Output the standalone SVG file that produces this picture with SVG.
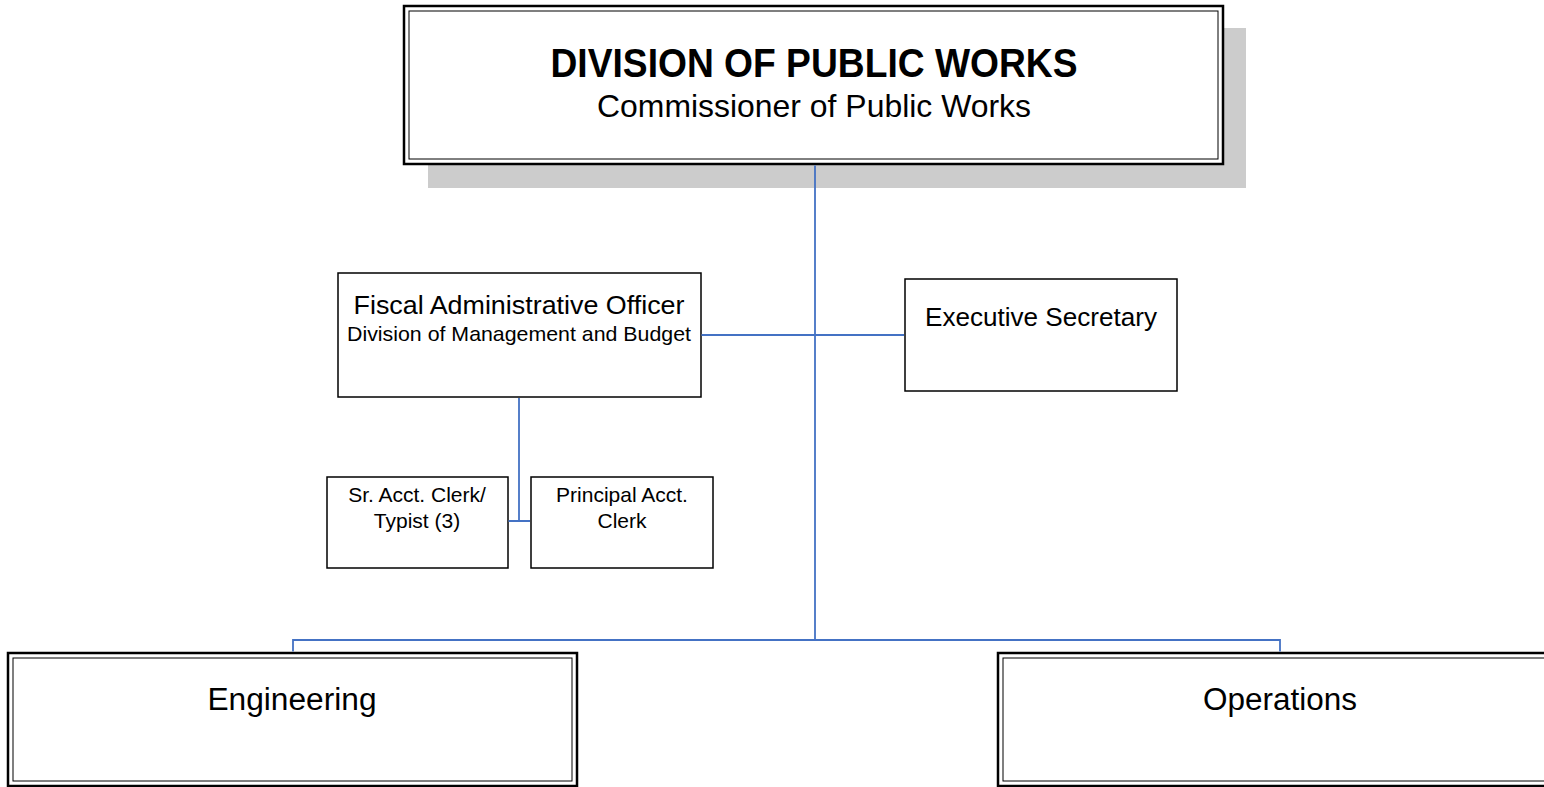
<svg xmlns="http://www.w3.org/2000/svg" width="1544" height="787" viewBox="0 0 1544 787">
<style>
.box{fill:#fff;stroke:#000;stroke-width:1.5}
.outer{fill:#fff;stroke:#000;stroke-width:2.5}
.inner{fill:none;stroke:#000;stroke-width:1}
.conn{fill:none;stroke:#4472C4;stroke-width:1.8}
text{font-family:"Liberation Sans",Arial,sans-serif;fill:#000;text-anchor:middle}
</style>
<rect width="1544" height="787" fill="#fff"/>
<g id="node-division">
<rect x="428" y="28" width="818" height="160" fill="#cccccc"/>
<rect class="outer" x="404" y="6" width="819" height="158"/>
<rect class="inner" x="409" y="11" width="809" height="148"/>
<text x="814" y="77" font-size="40" font-weight="bold" textLength="527" lengthAdjust="spacingAndGlyphs">DIVISION OF PUBLIC WORKS</text>
<text x="814" y="117" font-size="32" textLength="434" lengthAdjust="spacingAndGlyphs">Commissioner of Public Works</text>
</g>
<g id="node-fiscal">
<rect class="box" x="338" y="273" width="363" height="124"/>
<text x="519" y="314" font-size="25.5" textLength="331" lengthAdjust="spacingAndGlyphs">Fiscal Administrative Officer</text>
<text x="519" y="341" font-size="21" textLength="344" lengthAdjust="spacingAndGlyphs">Division of Management and Budget</text>
</g>
<g id="node-exec">
<rect class="box" x="905" y="279" width="272" height="112"/>
<text x="1041" y="326" font-size="25.5" textLength="232" lengthAdjust="spacingAndGlyphs">Executive Secretary</text>
</g>
<g id="node-sr">
<rect class="box" x="327" y="477" width="181" height="91"/>
<text x="417" y="502" font-size="21">Sr. Acct. Clerk/</text>
<text x="417" y="528" font-size="21">Typist (3)</text>
</g>
<g id="node-principal">
<rect class="box" x="531" y="477" width="182" height="91"/>
<text x="622" y="502" font-size="21">Principal Acct.</text>
<text x="622" y="528" font-size="21">Clerk</text>
</g>
<g id="node-engineering">
<rect class="outer" x="8" y="653" width="569" height="133"/>
<rect class="inner" x="13" y="658" width="559" height="123"/>
<text x="292" y="710" font-size="31" textLength="169" lengthAdjust="spacingAndGlyphs">Engineering</text>
</g>
<g id="node-operations">
<rect class="outer" x="998" y="653" width="560" height="133"/>
<rect class="inner" x="1003" y="658" width="550" height="123"/>
<text x="1280" y="710" font-size="31" textLength="154" lengthAdjust="spacingAndGlyphs">Operations</text>
</g>
<g id="connectors">
<path class="conn" d="M815 165.5V640M293 651.5V640H1280V651.5"/>
<path class="conn" d="M701.5 335H904"/>
<path class="conn" d="M519 398V521M508.5 521H530"/>
</g>
</svg>
